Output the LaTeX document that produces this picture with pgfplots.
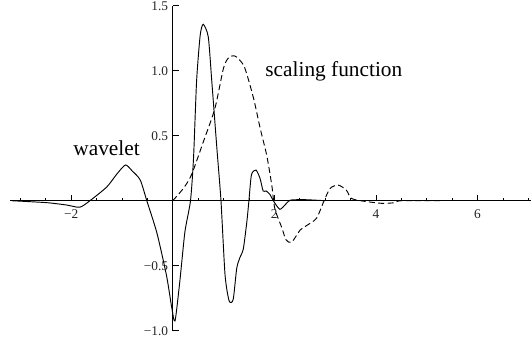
\documentclass[border=0pt]{standalone}
\usepackage{fontspec}
\setmainfont{Liberation Serif}
\usepackage{pgfplots}
\pgfplotsset{compat=1.18}

\begin{document}
\begin{tikzpicture}
\begin{axis}[
    x=38.1pt, y=97.5pt,
    axis lines=middle,
    axis line style={-, line width=0.6pt},
    xmin=-3.2, xmax=7.05,
    ymin=-1, ymax=1.5,
    xtick={-2,2,4,6},
    xticklabels={−2,2,4,6},
    minor xtick={-3,-2.5,...,7},
    ytick={-1,-0.5,0.5,1,1.5},
    yticklabels={−1.0,−0.5,0.5,1.0,1.5},
    minor y tick num=4,
    tick align=inside,
    major tick length=4.5pt,
    minor tick length=2.3pt,
    tick style={black, line width=0.5pt},
    tick label style={font=\fontsize{10}{11}\selectfont, text=black!85},
    xticklabel style={yshift=-3.5pt},
    clip=false,
]
% wavelet (solid)
\addplot[black, line width=0.7pt, smooth, tension=0.4] coordinates {
    (-3.17,0) (-2.48,-0.015) (-2.09,-0.033) (-1.83,-0.05)
    (-1.63,0) (-1.30,0.105) (-1.10,0.205) (-0.93,0.275)
    (-0.80,0.23) (-0.64,0.16) (-0.51,0) (-0.31,-0.25)
    (-0.12,-0.58) (-0.02,-0.82) (0.045,-0.925) (0.14,-0.62)
    (0.24,-0.24) (0.35,0) (0.41,0.33) (0.47,0.92)
    (0.54,1.27) (0.60,1.357) (0.70,1.26) (0.77,0.915)
    (0.87,0.40) (0.95,0) (1.03,-0.57) (1.11,-0.77)
    (1.19,-0.76) (1.26,-0.52) (1.32,-0.44) (1.39,-0.37)
    (1.46,-0.16) (1.50,0) (1.55,0.20) (1.64,0.236)
    (1.72,0.17) (1.78,0.075) (1.84,0.075) (1.92,0.045)
    (1.98,0) (2.11,-0.066) (2.24,-0.02)
    (2.32,0.005) (2.60,0.008) (3.00,0)
};
% scaling function (dashed)
\addplot[black, line width=0.7pt, dash pattern=on 4.5pt off 2.5pt, smooth, tension=0.45] coordinates {
    (0,0) (0.21,0.095) (0.37,0.20) (0.60,0.45)
    (0.83,0.71) (1.00,1.02) (1.10,1.10) (1.21,1.115)
    (1.30,1.09) (1.42,1.02) (1.59,0.79) (1.72,0.56)
    (1.85,0.35) (1.95,0.12) (2.01,-0.06) (2.15,-0.21)
    (2.23,-0.30) (2.34,-0.32) (2.51,-0.225) (2.64,-0.19)
    (2.83,-0.135) (2.98,0) (3.10,0.095) (3.26,0.12)
    (3.42,0.08) (3.51,0.02) (3.70,0) (4.11,-0.02)
    (4.37,-0.015) (4.50,0) (5.30,0)
};
\node[anchor=base west, inner sep=0pt, font=\fontsize{16}{19}\selectfont] at (axis cs:-1.96,0.346) {wavelet};
\node[anchor=base west, inner sep=0pt, font=\fontsize{16}{19}\selectfont] at (axis cs:1.82,0.954) {scaling function};
\coordinate (bbsw) at (axis cs:-3.4,-1.11);
\coordinate (bbne) at (axis cs:7.053,1.544);
\end{axis}
\pgfresetboundingbox
\useasboundingbox (bbsw) rectangle (bbne);
\end{tikzpicture}
\end{document}
